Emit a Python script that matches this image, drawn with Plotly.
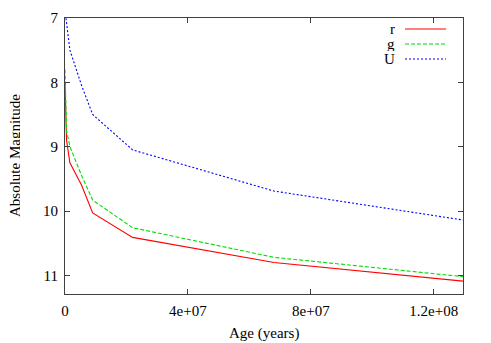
import plotly.graph_objects as go

# ages (years) and absolute magnitudes
age = [0, 5e5, 1.6e6, 5.4e6, 9.0e6, 2.2e7, 6.8e7, 1.295e8]
mag_r = [8.0, 8.9, 9.25, 9.6, 10.03, 10.41, 10.80, 11.09]
mag_g = [7.8, 8.75, 9.0, 9.45, 9.83, 10.26, 10.72, 11.02]
mag_u = [6.88, 7.1, 7.5, 8.05, 8.5, 9.05, 9.69, 10.14]

series_names = ["r", "g", "U"]
series_colors = ["#ff0000", "#00dd00", "#0000ff"]
series_dash = ["solid", "4px,2px", "2px,2px"]

x_tickvals = [0, 4e7, 8e7, 1.2e8]
x_ticktext = ["0", "4e+07", "8e+07", "1.2e+08"]
y_tickvals = [7, 8, 9, 10, 11]

font_family = "Liberation Serif"
axis_color = "#404040"

# the page body adds an 8px margin around the figure
page_pad = 8
fig_w, fig_h = 491 - page_pad, 343 - page_pad

# plot box in window pixels
left, right, top, bottom = 65, 463, 18, 294
plot_w = right - left
plot_h = bottom - top

fig = go.Figure()
for name, mags, color, dash in zip(series_names, [mag_r, mag_g, mag_u], series_colors, series_dash):
    fig.add_trace(
        go.Scatter(
            x=age,
            y=mags,
            name=name,
            mode="lines",
            line=dict(color=color, width=1.1, dash=dash),
            showlegend=False,
        )
    )

# gnuplot-style key: label right-aligned, line sample to its right
for i, (name, color, dash) in enumerate(zip(series_names, series_colors, series_dash)):
    y_paper = 1 - (29 + 15 * i - top) / plot_h
    fig.add_annotation(
        x=(397 - left) / plot_w, y=y_paper, xref="paper", yref="paper",
        text=name, showarrow=False, xanchor="right", yanchor="middle",
        height=14,
        font=dict(family=font_family, size=15, color="black"),
    )
    fig.add_shape(
        type="line", xref="paper", yref="paper",
        x0=(405 - left) / plot_w, x1=(446 - left) / plot_w, y0=y_paper, y1=y_paper,
        line=dict(color=color, width=1.1, dash=dash),
    )

# axis titles
fig.add_annotation(
    x=-(left - 14) / plot_w, y=0.5, xref="paper", yref="paper",
    text="Absolute Magnitude", textangle=-90, showarrow=False,
    xanchor="center", yanchor="middle", height=11,
    font=dict(family=font_family, size=15, color="black"),
)
fig.add_annotation(
    x=0.5, y=-(333 - bottom) / plot_h, xref="paper", yref="paper",
    text="Age (years)", showarrow=False, xanchor="center", yanchor="middle",
    font=dict(family=font_family, size=15, color="black"),
)

axis_common = dict(
    showline=True,
    linecolor=axis_color,
    linewidth=1,
    mirror="ticks",
    ticks="inside",
    ticklen=5,
    tickcolor=axis_color,
    showgrid=False,
    zeroline=False,
    automargin=False,
    tickfont=dict(family=font_family, size=15, color="black"),
)

fig.update_xaxes(range=[0, 1.295e8], tickvals=x_tickvals, ticktext=x_ticktext, ticklabelstandoff=3, **axis_common)
fig.update_yaxes(range=[11.29, 7], tickvals=y_tickvals, ticklabelstandoff=3, **axis_common)

fig.update_layout(
    width=fig_w,
    height=fig_h,
    margin=dict(l=left - page_pad, r=491 - right, t=top - page_pad, b=343 - bottom),
    plot_bgcolor="white",
    paper_bgcolor="white",
    font=dict(family=font_family, size=15, color="black"),
)

fig.write_html("out.html")
